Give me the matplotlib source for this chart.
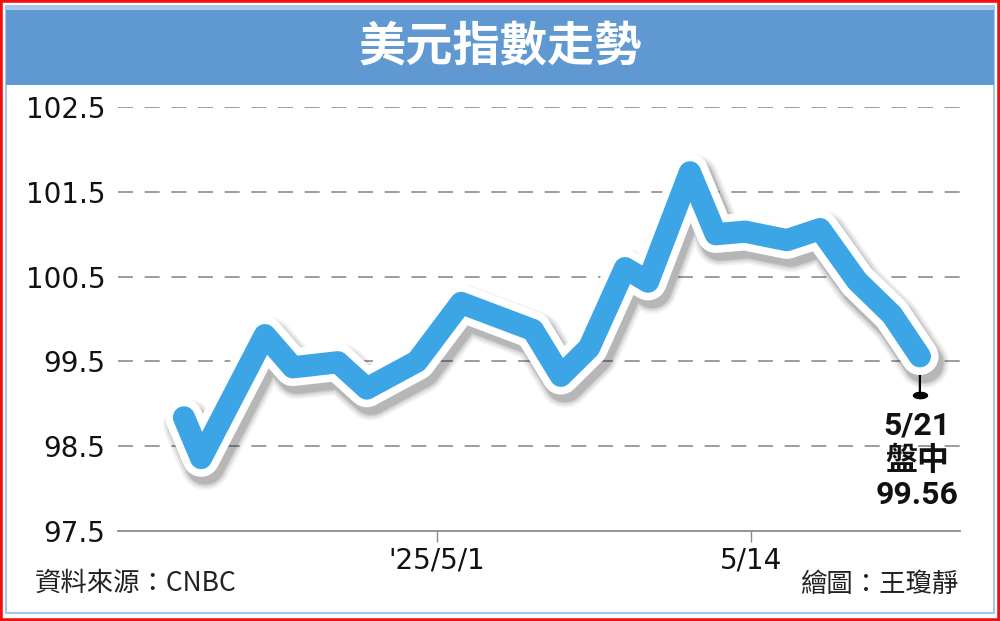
import matplotlib
matplotlib.use("Agg")
import matplotlib.pyplot as plt
import matplotlib.patheffects as pe
from matplotlib.patches import Rectangle
from matplotlib.path import Path
from matplotlib.transforms import ScaledTranslation
import numpy as np

# ---- data (x in trading-day units, 5/1 = 0, 5/14 = 9) ----
x_pos = [-7.25, -6.76, -4.93, -4.13, -2.84, -2.01, -0.57, 0.69, 2.75, 3.55,
         4.36, 5.39, 6.05, 7.25, 7.99, 8.83, 10.03, 10.98, 12.04, 13.04, 13.84]
dxy = [98.84, 98.36, 99.81, 99.43, 99.49, 99.18, 99.50, 100.19, 99.87, 99.33,
       99.66, 100.60, 100.44, 101.73, 101.00, 101.03, 100.93, 101.06, 100.45,
       100.05, 99.56]
xtick_pos = [0, 9]
xtick_labels = ["'25/5/1", "5/14"]
ytick_vals = [97.5, 98.5, 99.5, 100.5, 101.5, 102.5]
title = "美元指數走勢"
source = "資料來源：CNBC"
credit = "繪圖：王瓊靜"
last_label = "5/21\n盤中\n99.56"

CJK = ["Noto Sans CJK TC", "DejaVu Sans"]

W, H = 1000, 621
fig = plt.figure(figsize=(W / 100, H / 100), dpi=100)
fig.patch.set_facecolor("white")

def fx(px):
    return px / W

def fy(py):
    return 1 - py / H

# frame
fig.patches.append(Rectangle((fx(6), fy(613)), fx(988), (613 - 6) / H,
                             transform=fig.transFigure, facecolor="none",
                             edgecolor="#A8C6E6", linewidth=1.5, zorder=0))
fig.patches.append(Rectangle((0, 0), 1, 1, transform=fig.transFigure,
                             facecolor="none", edgecolor="#F01010",
                             linewidth=4, zorder=10))
# banner
fig.patches.append(Rectangle((fx(6), fy(85)), fx(988), (85 - 7) / H,
                             transform=fig.transFigure, facecolor="#6098D2",
                             edgecolor="none", zorder=1))
fig.patches.append(Rectangle((fx(6), fy(10)), fx(988), 3 / H,
                             transform=fig.transFigure, facecolor="#A9C8EA",
                             edgecolor="none", zorder=2))
fig.text(0.5, fy(47), title, ha="center", va="center", color="white",
         fontsize=34, fontweight="bold", family=CJK, zorder=3)

ax = fig.add_axes([fx(118), fy(531), fx(960 - 118), (531 - 107) / H])
ax.set_xlim(-9.14, 14.99)
ax.set_ylim(97.5, 102.5)
ax.set_facecolor("none")
for s in ["top", "right", "left"]:
    ax.spines[s].set_visible(False)
ax.spines["bottom"].set_color("#8A8A8A")
ax.spines["bottom"].set_linewidth(1.3)

ax.set_yticks(ytick_vals)
ax.set_yticklabels([f"{v:.1f}" for v in ytick_vals], fontsize=20,
                   family="DejaVu Sans", color="#111111")
ax.tick_params(axis="y", length=0, pad=9)
ax.set_xticks(xtick_pos)
ax.set_xticklabels(xtick_labels, fontsize=20, family="DejaVu Sans",
                   color="#111111")
ax.tick_params(axis="x", length=8, width=1, color="#8A8A8A", pad=3)

for v in ytick_vals[1:]:
    ax.axhline(v, color="#8C8C8C", lw=1.2, dashes=(9, 7), zorder=1)

# line with white outline and soft shadow
shadow = []
for lw, a in [(36, 0.05), (33, 0.07), (30, 0.09), (28, 0.10)]:
    shadow.append(pe.SimpleLineShadow(offset=(3, -5), shadow_color="black",
                                      alpha=a, rho=1, linewidth=lw))
ax.plot(x_pos, dxy, color="#3BA5E6", lw=16, solid_joinstyle="round",
        solid_capstyle="round", zorder=5,
        path_effects=shadow + [pe.Stroke(linewidth=27, foreground="white"),
                               pe.Normal()])

# annotation for last point
ell = Path.unit_circle()
ell = Path(ell.vertices * np.array([1.0, 0.45]), ell.codes)
ax.annotate("", xy=(x_pos[-1], dxy[-1]), xytext=(0, -28),
            textcoords="offset points",
            arrowprops=dict(arrowstyle="-", color="black", lw=1.6,
                            shrinkA=0, shrinkB=0), zorder=4)
trans = ax.transData + ScaledTranslation(0, -28 / 72, fig.dpi_scale_trans)
ax.plot([x_pos[-1]], [dxy[-1]], marker=ell, markersize=10, color="black",
        transform=trans, zorder=4, clip_on=False)
ax.annotate(last_label, xy=(x_pos[-1], dxy[-1]), xytext=(-2, -39),
            textcoords="offset points", ha="center", va="top",
            fontsize=23, fontweight="bold", family=["Roboto", "Noto Sans CJK TC"],
            linespacing=1.2, color="#111111", zorder=6)

fig.text(fx(35), fy(583), source, ha="left", va="center", fontsize=19,
         family=CJK, color="#222222")
fig.text(fx(958), fy(584), credit, ha="right", va="center", fontsize=19,
         family=CJK, color="#222222")

fig.savefig("out.png", dpi=100)
